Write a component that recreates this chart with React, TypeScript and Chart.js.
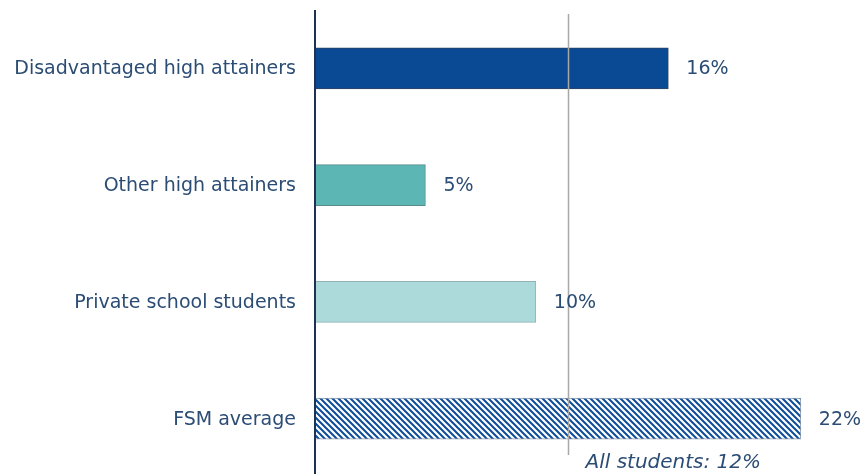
import React, { useEffect, useRef } from "react";
import { Chart, registerables } from "chart.js";

Chart.register(...registerables);

const categories = [
  "Disadvantaged high attainers",
  "Other high attainers",
  "Private school students",
  "FSM average",
];
const values = [16, 5, 10, 22];
const valueLabels = ["16%", "5%", "10%", "22%"];
const allStudentsLine = 11.45;
const allStudentsLabel = "All students: 12%";

const FONT = "'DejaVu Sans', sans-serif";
const TEXT = "#2b4c74";

function makeHatch(): CanvasPattern | string {
  const c = document.createElement("canvas");
  c.width = 6;
  c.height = 6;
  const ctx = c.getContext("2d");
  if (!ctx) return "#0a4a94";
  ctx.fillStyle = "#ffffff";
  ctx.fillRect(0, 0, 6, 6);
  ctx.strokeStyle = "#0d4c98";
  ctx.lineWidth = 2;
  ctx.beginPath();
  for (let k = -6; k <= 6; k += 6) {
    ctx.moveTo(k - 1, -1);
    ctx.lineTo(k + 7, 7);
  }
  ctx.stroke();
  return ctx.createPattern(c, "repeat") || "#0a4a94";
}

export default function App() {
  const ref = useRef<HTMLCanvasElement>(null);
  useEffect(() => {
    document.body.style.margin = "0";
    document.body.style.overflow = "hidden";
    document.documentElement.style.overflow = "hidden";
    const canvas = ref.current!;
    const hatch = makeHatch();
    const overlay = {
      id: "overlay",
      afterDatasetsDraw(chart: any) {
        const { ctx, scales, chartArea } = chart;
        const x = scales.x;
        const y = scales.y;
        ctx.save();
        // reference line
        const lx = Math.round(x.getPixelForValue(allStudentsLine)) + 0.5;
        ctx.strokeStyle = "#a8a8a8";
        ctx.lineWidth = 1.5;
        ctx.beginPath();
        ctx.moveTo(lx, 14);
        ctx.lineTo(lx, 455);
        ctx.stroke();
        // axis line
        ctx.strokeStyle = "#1d3352";
        ctx.lineWidth = 2;
        ctx.beginPath();
        ctx.moveTo(chartArea.left, 10);
        ctx.lineTo(chartArea.left, chart.height);
        ctx.stroke();
        ctx.fillStyle = TEXT;
        ctx.font = `19px ${FONT}`;
        ctx.textBaseline = "middle";
        // category labels
        ctx.textAlign = "right";
        categories.forEach((c, i) => {
          ctx.fillText(c, chartArea.left - 19, y.getPixelForValue(i) + 1);
        });
        // value labels
        ctx.textAlign = "left";
        values.forEach((v, i) => {
          ctx.fillText(valueLabels[i], x.getPixelForValue(v) + 18, y.getPixelForValue(i) + 1);
        });
        // all students label
        ctx.font = `italic 20px ${FONT}`;
        ctx.fillText(allStudentsLabel, lx + 17, 463);
        ctx.restore();
      },
    };
    const chart = new Chart(canvas, {
      type: "bar",
      data: {
        labels: categories,
        datasets: [
          {
            data: values,
            backgroundColor: ["#0a4a94", "#5cb7b4", "#acd9d9", hatch as any],
            borderColor: ["#33455e", "#5a8c8c", "#8fb3b3", "#8a9ab0"],
            borderWidth: 1,
            borderSkipped: "start",
            barThickness: 41,
          },
        ],
      },
      options: {
        indexAxis: "y",
        animation: false,
        responsive: false,
        maintainAspectRatio: false,
        layout: { padding: { top: 10, right: 19, bottom: 1, left: 0 } },
        plugins: { legend: { display: false }, tooltip: { enabled: false } },
        scales: {
          x: {
            min: 0,
            max: 24,
            display: false,
          },
          y: {
            grid: { display: false, drawTicks: false },
            border: { display: false },
            ticks: { display: false },
            afterFit(scale: any) {
              scale.width = 315;
            },
          },
        },
      },
      plugins: [overlay],
    });
    return () => chart.destroy();
  }, []);
  return <canvas ref={ref} width={864} height={478} style={{ display: "block" }} />;
}
